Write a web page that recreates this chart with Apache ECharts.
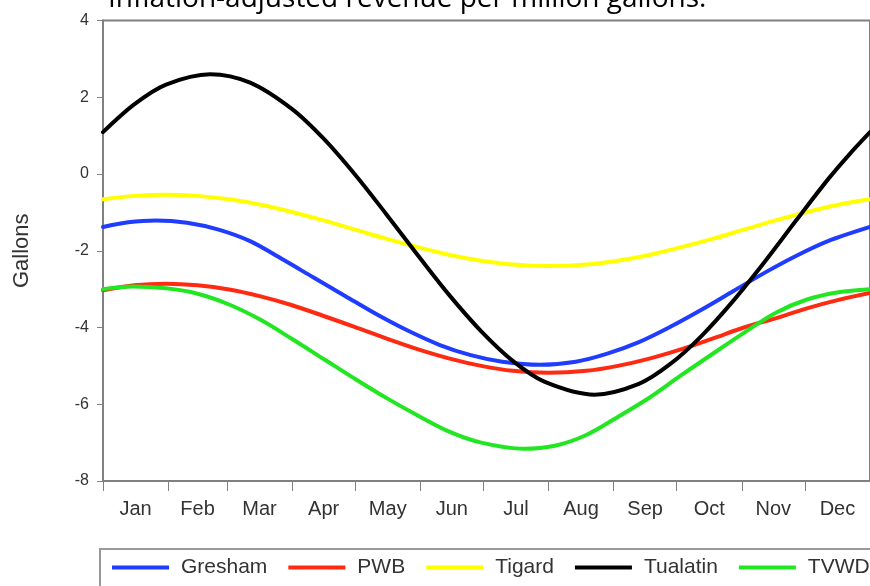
<!DOCTYPE html>
<html>
<head>
<meta charset="utf-8">
<script src="https://cdn.jsdelivr.net/npm/echarts@6/dist/echarts.min.js"></script>
<style>
html,body{margin:0;padding:0;background:#fff;overflow:hidden;}
#c{width:870px;height:586px;}
</style>
</head>
<body>
<div id="c"></div>
<script>
// Day-of-year positions (x) and values (y), per series
const greshamDays  = [0, 12, 25, 40, 55, 70, 85, 100, 115, 130, 145, 160, 175, 190, 208, 225, 240, 255, 270, 285, 300, 315, 330, 345, 365];
const gresham      = [-1.38, -1.26, -1.21, -1.27, -1.45, -1.75, -2.21, -2.69, -3.17, -3.65, -4.08, -4.45, -4.72, -4.89, -4.97, -4.89, -4.68, -4.38, -3.98, -3.53, -3.05, -2.57, -2.13, -1.75, -1.38];

const pwbDays      = [0, 15, 30, 45, 60, 75, 90, 105, 120, 135, 150, 165, 180, 195, 212, 230, 245, 260, 275, 290, 305, 320, 335, 350, 365];
const pwb          = [-3.03, -2.90, -2.86, -2.90, -3.01, -3.19, -3.42, -3.70, -3.99, -4.29, -4.57, -4.81, -5.00, -5.13, -5.18, -5.13, -5.00, -4.81, -4.57, -4.29, -4.00, -3.76, -3.50, -3.28, -3.10];

const tigardDays   = [0, 15, 30, 45, 60, 75, 90, 105, 120, 135, 150, 165, 180, 195, 212, 230, 245, 260, 275, 290, 305, 320, 335, 350, 365];
const tigard       = [-0.66, -0.57, -0.54, -0.57, -0.66, -0.80, -0.99, -1.21, -1.45, -1.69, -1.91, -2.11, -2.26, -2.36, -2.40, -2.36, -2.26, -2.11, -1.91, -1.69, -1.45, -1.21, -0.99, -0.80, -0.66];

const tualatinDays = [0, 15, 30, 51, 70, 90, 105, 120, 135, 150, 165, 180, 195, 210, 234, 255, 270, 285, 300, 315, 330, 345, 355, 365];
const tualatin     = [1.09, 1.82, 2.33, 2.60, 2.38, 1.69, 0.92, -0.02, -1.06, -2.13, -3.17, -4.10, -4.87, -5.41, -5.75, -5.47, -4.95, -4.21, -3.30, -2.28, -1.20, -0.14, 0.50, 1.09];

const tvwdDays     = [0, 14, 30, 45, 60, 75, 90, 105, 120, 135, 150, 165, 180, 200, 215, 230, 245, 260, 275, 290, 305, 320, 335, 350, 365];
const tvwd         = [-3.00, -2.93, -2.98, -3.12, -3.40, -3.80, -4.30, -4.82, -5.34, -5.84, -6.30, -6.72, -7.00, -7.16, -7.08, -6.80, -6.33, -5.83, -5.25, -4.69, -4.14, -3.62, -3.27, -3.08, -3.00];

const seriesNames  = ['Gresham', 'PWB', 'Tigard', 'Tualatin', 'TVWD'];
const seriesColors = ['#1f3cff', '#ff2a12', '#ffff00', '#000000', '#22e622'];

const monthLabels = ['Jan','Feb','Mar','Apr','May','Jun','Jul','Aug','Sep','Oct','Nov','Dec'];
const monthStarts = [0, 31, 59, 90, 120, 151, 181, 212, 243, 273, 304, 334, 365];
const monthMids   = [15.5, 45, 74.5, 105, 135.5, 166, 196.5, 227.5, 258, 288.5, 319, 349.5];
const yTicks      = [-8, -6, -4, -2, 0, 2, 4];

const titleText = 'Inflation-adjusted revenue per million gallons.';

const allDays   = [greshamDays, pwbDays, tigardDays, tualatinDays, tvwdDays];
const allValues = [gresham, pwb, tigard, tualatin, tvwd];

const chart = echarts.init(document.getElementById('c'), null, {renderer: 'canvas'});
chart.setOption({
  animation: false,
  backgroundColor: '#fff',
  graphic: [{
    type: 'text',
    left: 108,
    top: -15,
    z: 100,
    style: {
      text: titleText,
      font: '28px "Open Sans"',
      fill: '#000'
    }
  }],
  grid: {
    left: 103,
    top: 20.5,
    right: -5,
    bottom: 105,
    show: true,
    borderColor: '#808080',
    borderWidth: 2,
    backgroundColor: 'transparent'
  },
  xAxis: {
    type: 'value',
    min: 0,
    max: 365,
    axisLine: {show: true, onZero: false, lineStyle: {color: '#808080', width: 2}},
    axisTick: {show: true, customValues: monthStarts, length: 10, lineStyle: {color: '#808080', width: 1}},
    axisLabel: {
      show: true,
      customValues: monthMids,
      formatter: function (v) {
        const i = monthMids.indexOf(v);
        return i >= 0 ? monthLabels[i] : '';
      },
      color: '#333',
      fontFamily: 'Liberation Sans',
      fontSize: 20,
      margin: 18
    },
    splitLine: {show: false}
  },
  yAxis: {
    type: 'value',
    min: -8,
    max: 4,
    interval: 2,
    name: 'Gallons',
    nameLocation: 'middle',
    nameGap: 70,
    nameTextStyle: {color: '#333', fontFamily: 'Liberation Sans', fontSize: 22},
    axisLine: {show: true, onZero: false, lineStyle: {color: '#808080', width: 2}},
    axisTick: {show: true, length: 6, lineStyle: {color: '#808080', width: 1}},
    axisLabel: {
      customValues: yTicks,
      color: '#333',
      fontFamily: 'Liberation Sans',
      fontSize: 16,
      margin: 14
    },
    splitLine: {show: false}
  },
  legend: {
    left: 100,
    top: 549,
    width: 900,
    orient: 'horizontal',
    icon: 'rect',
    itemWidth: 57,
    itemHeight: 4,
    itemGap: 21,
    padding: [8, 12, 14, 12],
    borderColor: '#999',
    borderWidth: 2,
    textStyle: {color: '#333', fontFamily: 'Liberation Sans', fontSize: 21, padding: [0, 0, 0, 7]},
    data: seriesNames
  },
  series: seriesNames.map(function (name, k) {
    return {
      name: name,
      type: 'line',
      smooth: 0.33,
      showSymbol: false,
      symbol: 'none',
      color: seriesColors[k],
      lineStyle: {color: seriesColors[k], width: 4, join: 'round', cap: 'round'},
      data: allDays[k].map(function (d, i) { return [d, allValues[k][i]]; })
    };
  })
});
</script>
</body>
</html>
